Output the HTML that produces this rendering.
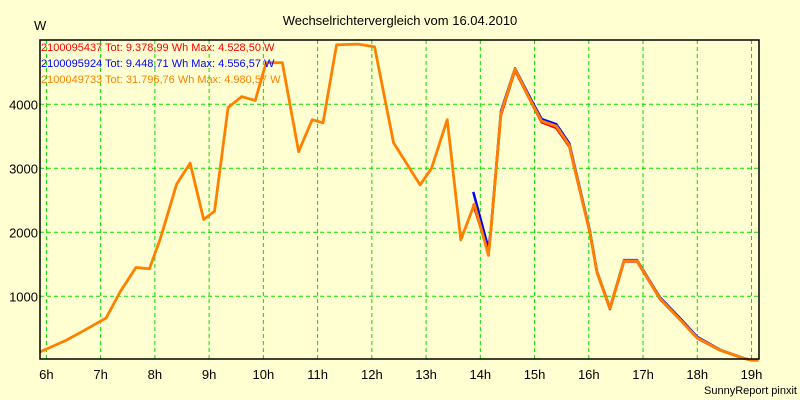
<!DOCTYPE html>
<html><head><meta charset="utf-8"><style>
body{margin:0;background:#FFFFD2;}
svg{display:block;font-family:"Liberation Sans",sans-serif;}
</style></head><body>
<svg id="chart" width="800" height="400">
<rect width="800" height="400" fill="#FFFFD2"/>
<text x="400" y="25" text-anchor="middle" font-size="13">Wechselrichtervergleich vom 16.04.2010</text>
<text x="34" y="30" font-size="13">W</text>
<g id="grid"></g>
<g id="series"></g>
<rect x="40" y="40" width="719" height="319" fill="none" stroke="#000" stroke-width="1.5"/>
<g id="labels"></g>
<g font-size="11">
<text x="41" y="51" fill="#FF0000">2100095437 Tot: 9.378,99 Wh Max: 4.528,50 W</text>
<text x="41" y="67" fill="#0000FF">2100095924 Tot: 9.448,71 Wh Max: 4.556,57 W</text>
<text x="41" y="83" fill="#FF8000">2100049733 Tot: 31.796,76 Wh Max: 4.980,57 W</text>
</g>
<text x="797" y="394" text-anchor="end" font-size="11">SunnyReport pinxit</text>
</svg>
<script>
const xTicks=[6,7,8,9,10,11,12,13,14,15,16,17,18,19];
const yTicks=[1000,2000,3000,4000];
const orangeT=[5.88,6.37,6.65,7.1,7.36,7.65,7.9,8.1,8.4,8.65,8.9,9.1,9.35,9.6,9.85,10.05,10.35,10.65,10.9,11.1,11.35,11.75,12.05,12.4,12.89,13.1,13.39,13.64,13.89,14.15,14.19,14.38,14.64,14.95,15.13,15.4,15.64,16.02,16.15,16.39,16.65,16.89,17.31,17.69,18.0,18.42,18.85,19.0,19.13];
const orangeV=[130,315,445,660,1070,1450,1430,1900,2750,3080,2200,2330,3950,4120,4060,4650,4650,3260,3760,3710,4930,4940,4900,3400,2740,3000,3760,1880,2440,1640,1980,3860,4550,4020,3740,3660,3360,2000,1380,815,1555,1555,970,630,350,160,35,0,0];
const redT=[13.87,14.15,14.19,14.38,14.64,14.95,15.13,15.4,15.64,16.02,16.15,16.39,16.65,16.89,17.31,17.69,18.0,18.42,18.85,19.0];
const redV=[2440,1680,1980,3830,4530,4010,3720,3630,3340,1990,1370,800,1545,1545,960,625,345,155,30,0];
const blueT=[13.87,14.15,14.19,14.38,14.64,14.95,15.13,15.4,15.64,16.02,16.15,16.39,16.65,16.89,17.31,17.69,18.0,18.42,18.85,19.0];
const blueV=[2630,1750,2000,3890,4560,4050,3770,3690,3390,2020,1390,820,1565,1565,985,650,365,165,35,0];
const NS='http://www.w3.org/2000/svg';
const X=h=>46.4+(h-6)*54.24;
const Y=v=>360.3-v*0.064;
function mk(t,a,p){const e=document.createElementNS(NS,t);for(const k in a)e.setAttribute(k,a[k]);p.appendChild(e);return e;}
const grid=document.getElementById('grid'),labels=document.getElementById('labels'),series=document.getElementById('series');
xTicks.forEach(h=>{
 const l=mk('line',{x1:X(h),x2:X(h),y1:40,y2:359,stroke:'#00E000','stroke-dasharray':'4 3'},grid);
 
 
 const t=mk('text',{x:X(h),y:379,'text-anchor':'middle','font-size':'13'},labels);
 t.textContent=h+'h';
 
 
});
yTicks.forEach(v=>{
 const l=mk('line',{x1:40,x2:759,y1:Y(v),y2:Y(v),stroke:'#00E000','stroke-dasharray':'4 3'},grid);
 
 
 const t=mk('text',{x:38,y:Y(v)+5,'text-anchor':'end','font-size':'13'},labels);
 t.textContent=v;
 
 
});
function line(T,V,c,w,name){
 const p=mk('polyline',{points:T.map((t,i)=>X(t)+','+Y(V[i])).join(' '),fill:'none',stroke:c,'stroke-width':w,'stroke-linejoin':'round'},series);
 
 
}
line(blueT,blueV,'#0000FF',2.5,'series-2100095924');
line(redT,redV,'#FF0000',2.5,'series-2100095437');
line(orangeT,orangeV,'#FF8000',2.8,'series-2100049733');
</script>
</body></html>
